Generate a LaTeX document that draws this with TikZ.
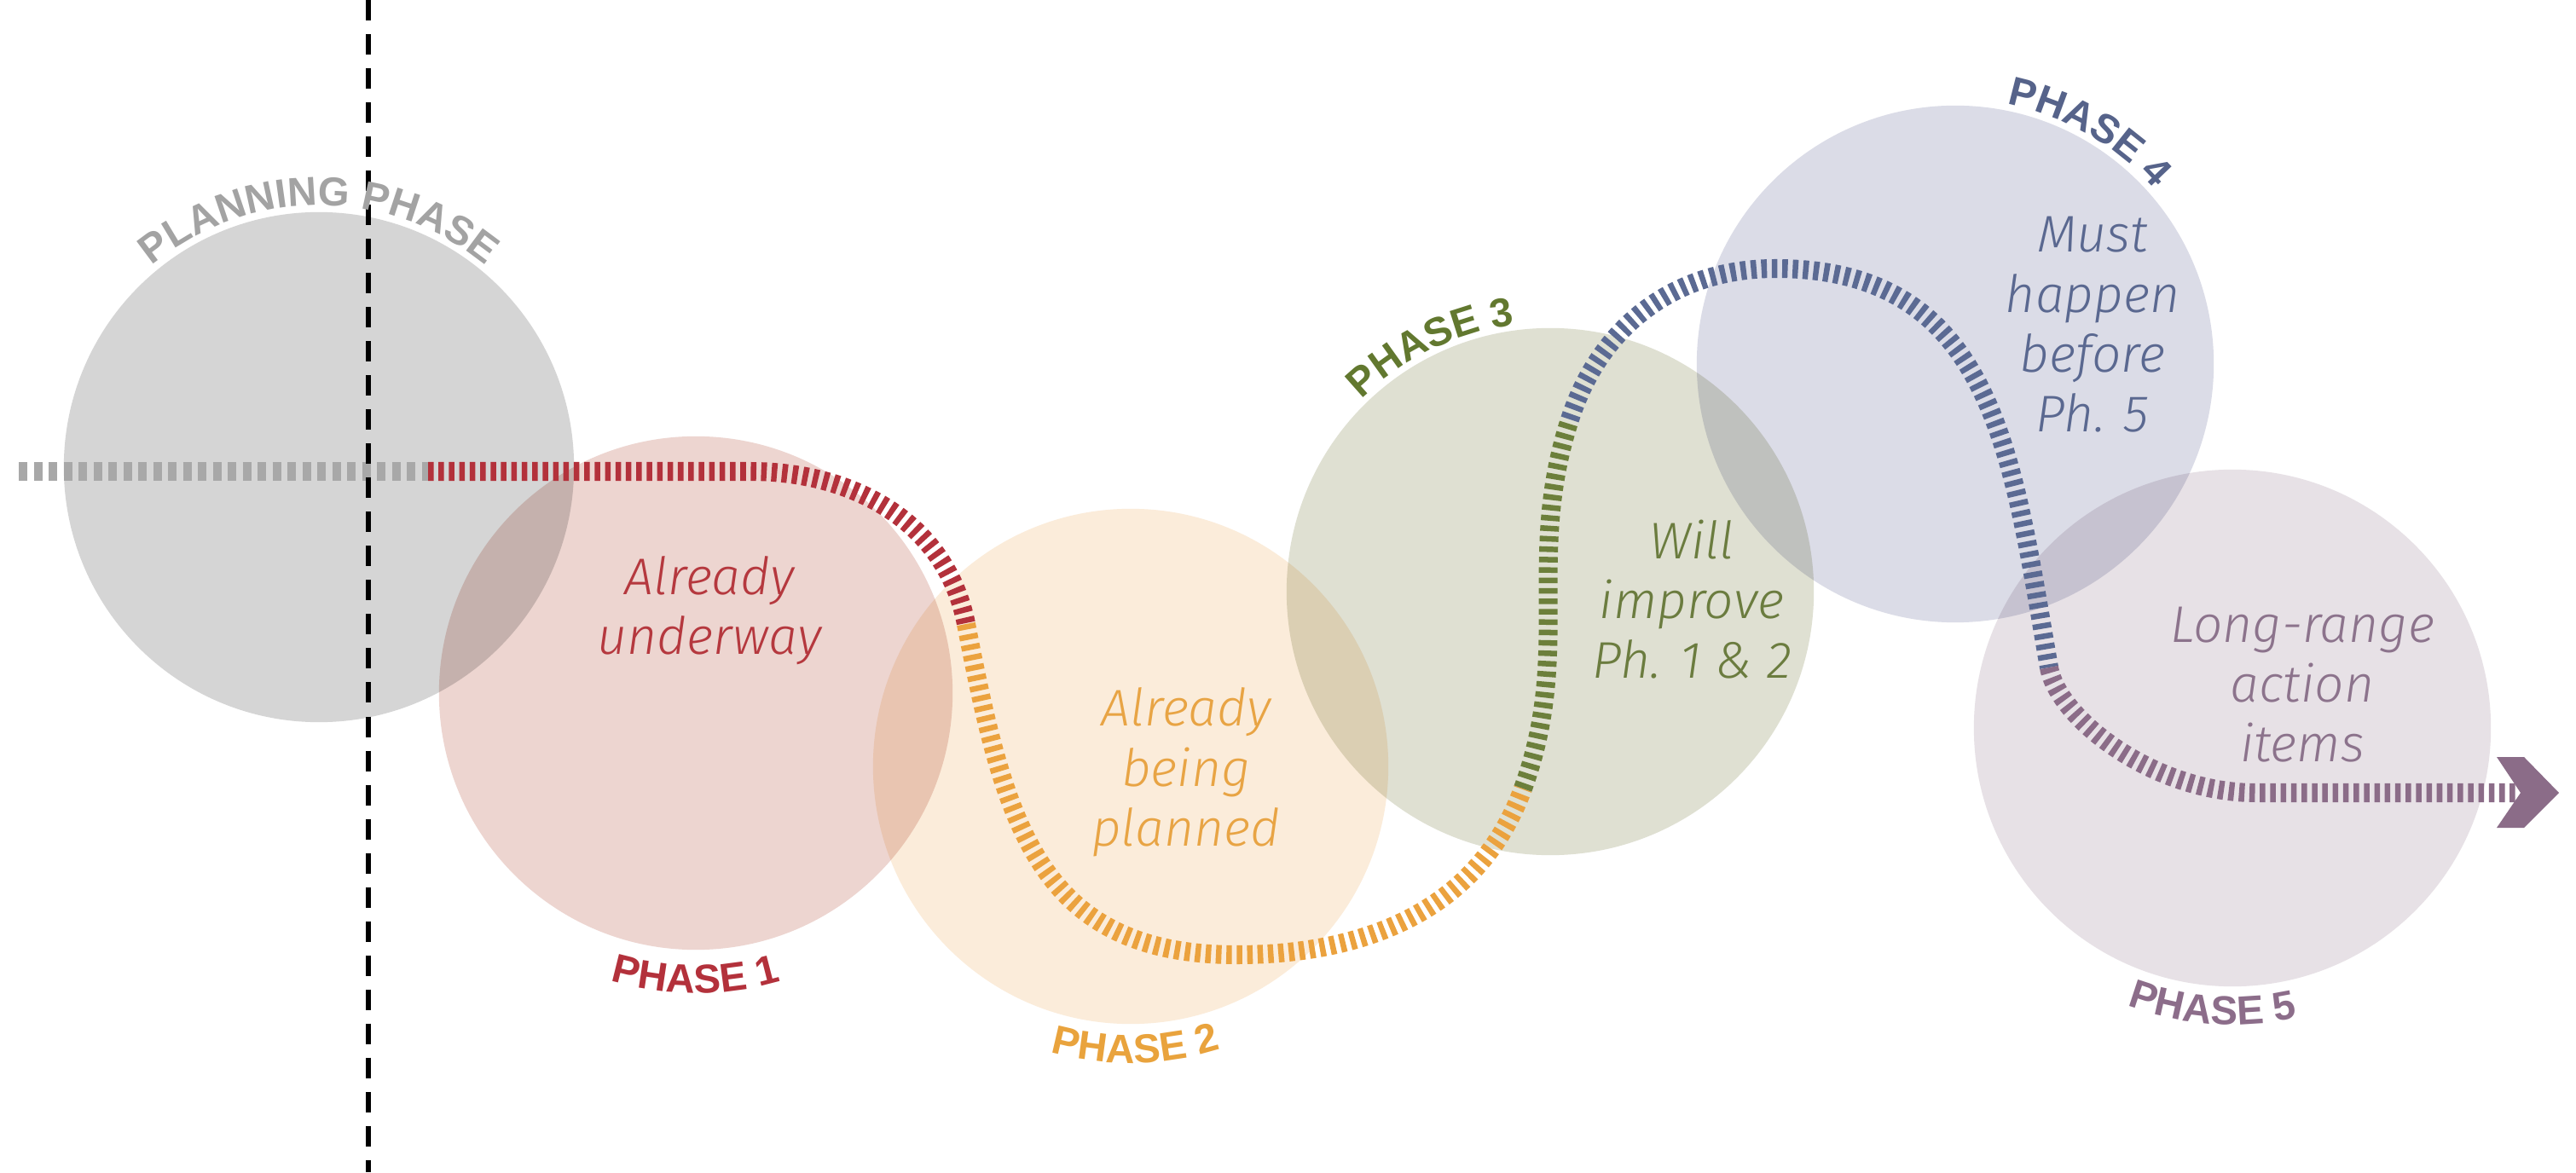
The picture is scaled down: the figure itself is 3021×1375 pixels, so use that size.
\documentclass[tikz,border=0pt]{standalone}
\usepackage{fontspec}
\setmainfont{Liberation Sans}
\IfFontExistsTF{Fira Sans Light Italic}
  {\newfontfamily\bodyfam{Fira Sans Light Italic}\newcommand\bodyshape{}\newcommand\bodysize{17.2}}
  {\newfontfamily\bodyfam{Liberation Sans}\newcommand\bodyshape{\itshape}\newcommand\bodysize{17}}
\usetikzlibrary{decorations.text}

\definecolor{fillGray}{HTML}{D5D5D5}
\definecolor{fillRed}{HTML}{EDD5D0}
\definecolor{fillOrange}{HTML}{FBECDA}
\definecolor{fillGreen}{HTML}{DFE0D2}
\definecolor{fillBlue}{HTML}{DBDCE7}
\definecolor{fillMauve}{HTML}{E7E1E6}

\definecolor{lineGray}{HTML}{A8A8A8}
\definecolor{lineRed}{HTML}{B3313B}
\definecolor{lineOrange}{HTML}{EBA23E}
\definecolor{lineGreen}{HTML}{6C7F3B}
\definecolor{lineBlue}{HTML}{5B6A93}
\definecolor{lineMauve}{HTML}{8B6C88}

\definecolor{lblGray}{HTML}{A3A3A3}
\definecolor{lblRed}{HTML}{B3313B}
\definecolor{lblOrange}{HTML}{E9A33D}
\definecolor{lblGreen}{HTML}{62782F}
\definecolor{lblBlue}{HTML}{56638A}
\definecolor{lblMauve}{HTML}{8C6D8A}

\definecolor{txtRed}{HTML}{B5383E}
\definecolor{txtOrange}{HTML}{E8A444}
\definecolor{txtGreen}{HTML}{6B7C3F}
\definecolor{txtBlue}{HTML}{5A6890}
\definecolor{txtMauve}{HTML}{8C738C}

\newcommand\lblfont{\fontsize{13.5}{16}\selectfont\bfseries}
\newcommand\bodyfont{\bodyfam\fontsize{\bodysize}{20}\selectfont\bodyshape}

\begin{document}
\begin{tikzpicture}[x=0.01cm, y=0.01cm,
  phasecirc/.style={circle, inner sep=0pt, draw=none, minimum size=#1},
  pathseg/.style={line width=0.22cm, dash pattern=on 0.065cm off 0.057cm},
  grayseg/.style={line width=0.22cm, dash pattern=on 0.10cm off 0.075cm, draw=lineGray},
  blackdash/.style={line width=0.065cm, dash pattern=on 0.24cm off 0.16cm, draw=black},
  bodytxt/.style={align=center, font=\bodyfont, inner sep=0pt},
  lbl/.style={decorate, decoration={text along path, text align=center, text color=#1}}]

\fill[white] (0,0) rectangle (3021,1375);
\useasboundingbox (0,0) rectangle (3021,1375);

% circles
\begin{scope}[blend mode=multiply]
\node[phasecirc=5.98cm, fill=fillGray]   (c0) at (374,827) {};
\node[phasecirc=6.02cm, fill=fillRed]    (c1) at (816,562) {};
\node[phasecirc=6.04cm, fill=fillOrange] (c2) at (1326,476) {};
\node[phasecirc=6.18cm, fill=fillGreen]  (c3) at (1818,681) {};
\node[phasecirc=6.06cm, fill=fillBlue]   (c4) at (2293,948) {};
\node[phasecirc=6.06cm, fill=fillMauve]  (c5) at (2618,521) {};
\end{scope}

% path coordinates
\coordinate (g0) at (22,822);
\coordinate (r0) at (502,822);
\coordinate (r1) at (880,822);
\coordinate (o0) at (1133,643);
\coordinate (o1) at (1450,255);
\coordinate (v0) at (1786,450);
\coordinate (b0) at (1841,883);
\coordinate (b1) at (2082,1060);
\coordinate (m0) at (2403,592);
\coordinate (m1) at (2645,445);
\coordinate (m2) at (2950,445);

\draw[grayseg] (g0) -- (r0);
\draw[pathseg, draw=lineRed] (r0) -- (r1) to[out=0,in=101] (o0);
\draw[pathseg, draw=lineOrange] (o0) to[out=-79,in=180,looseness=1.2] (o1) to[out=0,in=250] (v0);
\draw[pathseg, draw=lineGreen] (v0) to[out=70,in=252] (b0);
\draw[pathseg, draw=lineBlue] (b0) to[out=72,in=180] (b1) .. controls (2340,1060) and (2360,838) .. (m0);
\draw[pathseg, draw=lineMauve] (m0) .. controls (2413,533) and (2525,445) .. (m1) -- (m2);

% arrow head
\fill[lineMauve] (2928,487) -- (2960,487) -- (3001,445) -- (2960,404) -- (2928,404) -- (2956,445) -- cycle;

% vertical divider
\coordinate (vt) at (432,1375);
\coordinate (vb) at (432,0);
\draw[blackdash] (vt) -- (vb);

% curved labels
\path[lbl=lblGray, decoration={text={|\lblfont|PLANNING PHASE}}]
  ([shift={(150:307)}]c0.center) arc[start angle=150, end angle=30, radius=307];
\path[lbl=lblRed, decoration={text={|\lblfont|PHASE 1}}]
  ([shift={(240:352)}]c1.center) arc[start angle=240, end angle=300, radius=352];
\path[lbl=lblOrange, decoration={text={|\lblfont|PHASE 2}}]
  ([shift={(241:348)}]c2.center) arc[start angle=241, end angle=301, radius=348];
\path[lbl=lblGreen, decoration={text={|\lblfont|PHASE 3}}]
  ([shift={(146:316)}]c3.center) arc[start angle=146, end angle=86, radius=316];
\path[lbl=lblBlue, decoration={text={|\lblfont|PHASE 4}}]
  ([shift={(90:311)}]c4.center) arc[start angle=90, end angle=30, radius=311];
\path[lbl=lblMauve, decoration={text={|\lblfont|PHASE 5}}]
  ([shift={(236:348)}]c5.center) arc[start angle=236, end angle=296, radius=348];

% body texts
\node[bodytxt, text=txtRed]    (t1) at (832,659)  {Already\\underway};
\node[bodytxt, text=txtOrange] (t2) at (1391,469) {Already\\being\\planned};
\node[bodytxt, text=txtGreen]  (t3) at (1984,672) {Will\\improve\\Ph. 1 \& 2};
\node[bodytxt, text=txtBlue]   (t4) at (2454,994) {Must\\happen\\before\\Ph. 5};
\node[bodytxt, text=txtMauve]  (t5) at (2700,572) {Long-range\\action\\items};
\end{tikzpicture}
\end{document}
